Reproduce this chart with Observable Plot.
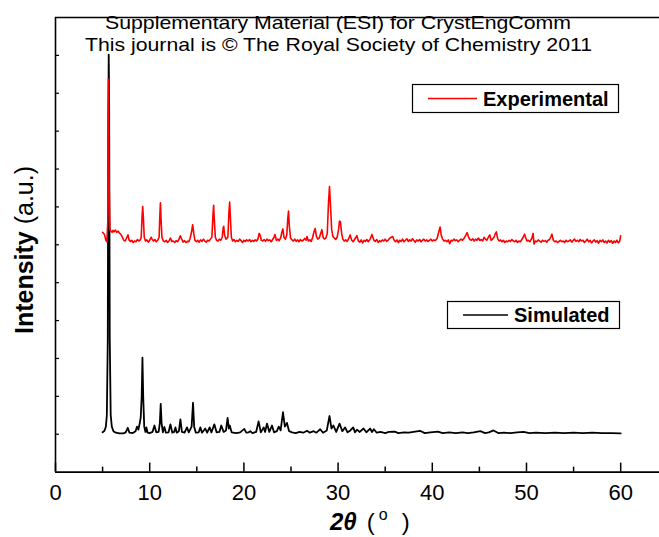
<!DOCTYPE html>
<html><head><meta charset="utf-8">
<script src="https://cdn.jsdelivr.net/npm/d3@7"></script>
<script src="https://cdn.jsdelivr.net/npm/@observablehq/plot@0.6"></script>
<style>
body{margin:0;background:#fff}
#wrap{position:relative;width:659px;height:537px;overflow:hidden}
#wrap svg{position:absolute;left:0;top:0}
</style>
</head><body><div id="wrap"></div>
<script>
// ---- data (2θ in degrees, intensity in a.u. incl. vertical offset) ----
const experimental = [
[5.0,6.33],[5.2,6.27],[5.35,6.12],[5.45,6.08],[5.55,6.6],[5.62,10.37],[5.7,7.5],[5.78,6.4],[5.9,6.36],[6.0,6.33],
[6.1,6.38],[6.2,6.34],[6.35,6.39],[6.5,6.33],[6.65,6.36],[6.8,6.31],[6.95,6.27],[7.1,6.2],[7.25,6.12],[7.4,6.1],
[7.55,6.18],[7.7,6.26],[7.8,6.13],[7.95,6.09],[8.1,6.12],[8.25,6.06],[8.4,6.1],[8.55,6.08],[8.7,6.14],[8.85,6.1],
[9.0,6.13],[9.1,6.2],[9.2,6.8],[9.26,7.01],[9.33,6.7],[9.42,6.2],[9.55,6.1],[9.7,6.13],[9.85,6.07],[10.0,6.12],
[10.15,6.2],[10.25,6.15],[10.4,6.1],[10.55,6.14],[10.7,6.08],[10.85,6.12],[11.0,6.2],[11.08,6.8],[11.14,7.11],[11.2,6.7],
[11.3,6.2],[11.45,6.1],[11.6,6.08],[11.75,6.12],[11.9,6.06],[12.05,6.1],[12.2,6.18],[12.35,6.09],[12.5,6.1],[12.65,6.06],
[12.8,6.11],[12.95,6.08],[13.1,6.14],[13.25,6.24],[13.4,6.15],[13.55,6.07],[13.7,6.11],[13.85,6.06],[14.0,6.09],[14.15,6.08],
[14.3,6.18],[14.45,6.35],[14.56,6.53],[14.68,6.3],[14.8,6.12],[14.95,6.08],[15.1,6.12],[15.25,6.07],[15.4,6.13],[15.55,6.09],
[15.7,6.15],[15.85,6.1],[16.0,6.07],[16.15,6.12],[16.3,6.1],[16.45,6.15],[16.6,6.2],[16.72,6.8],[16.79,7.04],[16.87,6.6],
[16.97,6.2],[17.1,6.12],[17.25,6.1],[17.4,6.15],[17.55,6.12],[17.7,6.2],[17.8,6.45],[17.86,6.49],[17.95,6.25],[18.1,6.15],
[18.3,6.2],[18.42,6.9],[18.49,7.13],[18.57,6.7],[18.67,6.2],[18.8,6.1],[18.95,6.14],[19.1,6.08],[19.25,6.12],[19.4,6.09],
[19.55,6.15],[19.7,6.11],[19.85,6.06],[20.0,6.12],[20.15,6.09],[20.3,6.13],[20.45,6.1],[20.6,6.14],[20.75,6.08],[20.9,6.12],
[21.05,6.09],[21.2,6.13],[21.35,6.1],[21.5,6.16],[21.62,6.3],[21.74,6.24],[21.85,6.12],[22.0,6.1],[22.15,6.14],[22.3,6.09],
[22.45,6.15],[22.6,6.11],[22.75,6.13],[22.9,6.08],[23.05,6.14],[23.2,6.2],[23.3,6.27],[23.45,6.12],[23.6,6.15],[23.75,6.11],
[23.9,6.18],[24.05,6.35],[24.14,6.42],[24.25,6.2],[24.4,6.15],[24.55,6.25],[24.66,6.7],[24.74,6.89],[24.82,6.5],[24.95,6.18],
[25.1,6.13],[25.25,6.1],[25.4,6.15],[25.55,6.09],[25.7,6.13],[25.85,6.08],[26.0,6.14],[26.15,6.1],[26.3,6.12],[26.45,6.17],
[26.6,6.12],[26.7,6.22],[26.85,6.1],[27.0,6.13],[27.15,6.09],[27.3,6.2],[27.45,6.35],[27.57,6.43],[27.7,6.22],[27.85,6.15],
[28.0,6.18],[28.15,6.3],[28.28,6.4],[28.4,6.2],[28.55,6.15],[28.7,6.18],[28.85,6.3],[28.98,7.1],[29.09,7.54],[29.2,7.0],
[29.32,6.4],[29.45,6.22],[29.6,6.18],[29.75,6.14],[29.9,6.2],[30.05,6.4],[30.15,6.63],[30.25,6.6],[30.38,6.3],[30.5,6.15],
[30.65,6.1],[30.8,6.13],[30.95,6.09],[31.1,6.15],[31.28,6.26],[31.45,6.12],[31.6,6.08],[31.75,6.14],[32.0,6.24],[32.15,6.1],
[32.3,6.07],[32.45,6.13],[32.6,6.05],[32.75,6.12],[32.9,6.09],[33.05,6.14],[33.2,6.08],[33.4,6.15],[33.6,6.27],[33.8,6.12],
[33.95,6.09],[34.1,6.14],[34.25,6.06],[34.4,6.11],[34.55,6.08],[34.7,6.13],[34.85,6.1],[35.0,6.15],[35.15,6.09],[35.3,6.12],
[35.5,6.18],[35.65,6.2],[35.8,6.22],[35.95,6.12],[36.1,6.08],[36.25,6.13],[36.4,6.06],[36.55,6.12],[36.7,6.09],[36.85,6.15],
[37.0,6.08],[37.15,6.12],[37.3,6.16],[37.45,6.09],[37.6,6.13],[37.75,6.1],[37.9,6.16],[38.05,6.11],[38.2,6.07],[38.35,6.13],
[38.5,6.1],[38.65,6.14],[38.8,6.08],[38.95,6.12],[39.1,6.15],[39.25,6.1],[39.4,6.13],[39.55,6.09],[39.7,6.12],[39.85,6.15],
[40.0,6.1],[40.15,6.13],[40.3,6.11],[40.5,6.16],[40.7,6.35],[40.83,6.47],[40.95,6.25],[41.1,6.15],[41.25,6.1],[41.4,6.12],
[41.55,6.08],[41.7,6.13],[41.85,6.03],[42.0,6.12],[42.15,6.1],[42.3,6.15],[42.45,6.11],[42.6,6.13],[42.75,6.08],[42.9,6.12],
[43.05,6.15],[43.2,6.12],[43.4,6.18],[43.55,6.25],[43.7,6.32],[43.85,6.2],[44.0,6.14],[44.15,6.12],[44.3,6.16],[44.45,6.1],
[44.6,6.15],[44.75,6.12],[44.9,6.18],[45.05,6.11],[45.2,6.14],[45.35,6.1],[45.5,6.2],[45.65,6.15],[45.8,6.12],[45.95,6.2],
[46.1,6.26],[46.25,6.12],[46.4,6.15],[46.55,6.2],[46.7,6.3],[46.8,6.34],[46.95,6.15],[47.1,6.1],[47.25,6.13],[47.4,6.08],
[47.55,6.12],[47.7,6.06],[47.85,6.1],[48.0,6.08],[48.15,6.12],[48.3,6.09],[48.45,6.14],[48.6,6.1],[48.75,6.08],[48.9,6.12],
[49.05,6.06],[49.2,6.1],[49.35,6.08],[49.5,6.14],[49.65,6.2],[49.8,6.28],[49.9,6.2],[50.05,6.1],[50.2,6.12],[50.35,6.08],
[50.5,6.14],[50.6,6.2],[50.7,6.3],[50.8,6.02],[50.95,6.1],[51.1,6.08],[51.25,6.13],[51.4,6.1],[51.55,6.07],[51.7,6.12],
[51.85,6.09],[52.0,6.11],[52.15,6.07],[52.3,6.12],[52.45,6.14],[52.6,6.22],[52.7,6.28],[52.85,6.12],[53.0,6.08],[53.15,6.1],
[53.3,6.06],[53.45,6.09],[53.6,6.12],[53.75,6.08],[53.9,6.1],[54.05,6.06],[54.2,6.12],[54.35,6.08],[54.5,6.1],[54.65,6.13],
[54.8,6.07],[54.95,6.11],[55.1,6.15],[55.25,6.09],[55.4,6.12],[55.55,6.08],[55.7,6.14],[55.85,6.1],[56.0,6.12],[56.15,6.06],
[56.3,6.1],[56.45,6.15],[56.6,6.08],[56.75,6.12],[56.9,6.05],[57.05,6.1],[57.2,6.13],[57.35,6.07],[57.5,6.11],[57.65,6.04],
[57.8,6.12],[57.95,6.08],[58.1,6.13],[58.25,6.06],[58.4,6.1],[58.55,6.05],[58.7,6.12],[58.85,6.07],[59.0,6.11],[59.15,6.04],
[59.3,6.1],[59.45,6.06],[59.6,6.12],[59.75,6.05],[59.9,6.1],[60.0,6.24]
];
const simulated = [
[5.0,1.05],[5.2,1.09],[5.35,1.2],[5.45,1.5],[5.55,3.5],[5.6,9.0],[5.65,11.02],[5.7,9.5],[5.76,3.5],[5.86,1.5],
[5.98,1.2],[6.15,1.08],[6.4,1.04],[6.8,1.02],[7.2,1.02],[7.45,1.05],[7.67,1.17],[7.85,1.04],[8.2,1.03],[8.5,1.08],
[8.66,1.2],[8.8,1.12],[8.95,1.3],[9.05,1.45],[9.15,2.0],[9.23,3.02],[9.31,2.0],[9.42,1.2],[9.55,1.06],[9.65,1.18],
[9.78,1.04],[10.0,1.03],[10.3,1.06],[10.5,1.23],[10.7,1.05],[10.95,1.06],[11.08,1.3],[11.17,1.8],[11.26,1.3],[11.4,1.05],
[11.56,1.19],[11.72,1.04],[12.0,1.05],[12.2,1.26],[12.4,1.04],[12.6,1.06],[12.73,1.18],[12.88,1.04],[13.1,1.08],[13.26,1.39],
[13.42,1.06],[13.7,1.04],[13.96,1.18],[14.15,1.05],[14.45,1.2],[14.6,1.83],[14.72,1.2],[14.9,1.04],[15.2,1.05],[15.38,1.18],
[15.55,1.04],[15.9,1.15],[16.1,1.04],[16.36,1.18],[16.55,1.05],[16.86,1.26],[17.1,1.05],[17.4,1.06],[17.6,1.23],[17.85,1.06],
[18.1,1.1],[18.27,1.43],[18.4,1.15],[18.5,1.23],[18.7,1.05],[19.2,1.03],[19.6,1.05],[20.04,1.14],[20.25,1.04],[20.5,1.05],
[20.68,1.08],[20.9,1.03],[21.3,1.06],[21.56,1.34],[21.8,1.05],[22.1,1.18],[22.25,1.06],[22.45,1.28],[22.7,1.06],[22.98,1.23],
[23.2,1.05],[23.5,1.08],[23.7,1.2],[23.9,1.1],[24.15,1.58],[24.35,1.2],[24.57,1.3],[24.8,1.08],[25.1,1.05],[25.5,1.03],
[25.9,1.06],[26.3,1.04],[26.7,1.09],[27.0,1.04],[27.4,1.08],[27.7,1.04],[28.1,1.13],[28.4,1.04],[28.8,1.1],[29.09,1.48],
[29.3,1.15],[29.5,1.23],[29.8,1.06],[30.15,1.28],[30.45,1.08],[30.75,1.18],[31.0,1.05],[31.3,1.1],[31.6,1.18],[31.8,1.05],
[32.0,1.12],[32.3,1.06],[32.7,1.15],[33.0,1.05],[33.4,1.15],[33.6,1.06],[33.8,1.13],[34.1,1.04],[34.5,1.06],[35.0,1.03],
[35.4,1.06],[36.0,1.07],[36.4,1.03],[37.0,1.05],[37.5,1.04],[38.0,1.06],[38.7,1.09],[39.2,1.03],[39.8,1.05],[40.6,1.07],
[41.1,1.03],[41.8,1.05],[42.5,1.03],[43.2,1.05],[43.8,1.03],[44.4,1.05],[45.1,1.08],[45.6,1.03],[46.0,1.05],[46.5,1.1],
[47.0,1.03],[47.6,1.04],[48.3,1.03],[49.0,1.05],[49.7,1.06],[50.3,1.03],[51.0,1.04],[52.0,1.03],[53.0,1.04],[54.0,1.03],
[55.0,1.04],[56.0,1.03],[57.0,1.04],[58.0,1.03],[59.0,1.03],[60.0,1.02]
];
const xTicks = [0, 10, 20, 30, 40, 50, 60];
const xMinorTicks = [5, 15, 25, 35, 45, 55];
const yTicks = [1, 2, 3, 4, 5, 6, 7, 8, 9, 10, 11];
const xDomain = [0, 64.12];
const yDomain = [0, 12];
const seriesNames = ["Experimental", "Simulated"];
const seriesColors = ["#ff0000", "#000000"];
const titleLines = ["Supplementary Material (ESI) for CrystEngComm", "This journal is \u00a9 The Royal Society of Chemistry 2011"];

const FONT = "'Liberation Sans', Arial, Helvetica, sans-serif";
const empty = () => "";

const chart = Plot.plot({
  width: 659, height: 537,
  marginLeft: 55, marginRight: 0, marginTop: 17, marginBottom: 65.4,
  x: {domain: xDomain},
  y: {domain: yDomain},
  style: {fontFamily: FONT, fontSize: "22px", color: "#000", background: "transparent", overflow: "visible"},
  marks: [
    Plot.axisY({ticks: yTicks, tickSize: -4, tickFormat: empty, label: null, strokeWidth: 1.2}),
    Plot.axisX({ticks: xTicks, tickSize: -9, tickFormat: empty, label: null, strokeWidth: 1.5}),
    Plot.axisX({ticks: xMinorTicks, tickSize: -5, tickFormat: empty, label: null, strokeWidth: 1.5}),
    Plot.axisX({ticks: xTicks, tickSize: 0, tickPadding: 12, label: null, fontSize: 22}),
    Plot.ruleX([xDomain[0]], {stroke: "#000", strokeWidth: 1.6}),
    Plot.ruleY(yDomain, {stroke: "#000", strokeWidth: 1.6}),
    Plot.line(simulated, {x: d => d[0], y: d => d[1], stroke: seriesColors[1], strokeWidth: 1.8}),
    Plot.line(experimental, {x: d => d[0], y: d => d[1], stroke: seriesColors[0], strokeWidth: 1.6})
  ]
});
const wrap = document.getElementById("wrap");
wrap.appendChild(chart);

// ---- annotation overlay: header, axis titles, legends ----
const ov = d3.select(wrap).append("svg")
  .attr("width", 659).attr("height", 537)
  .style("font-family", FONT).style("pointer-events", "none");

// clean right edge (the original figure is cropped there, no right spine)
ov.append("rect").attr("x", 650).attr("y", 19).attr("width", 9).attr("height", 450).attr("fill", "#fff");

ov.append("text").attr("x", 338).attr("y", 29).attr("text-anchor", "middle")
  .attr("font-size", 19).attr("textLength", 466).attr("lengthAdjust", "spacingAndGlyphs").text(titleLines[0]);
ov.append("text").attr("x", 338.5).attr("y", 51).attr("text-anchor", "middle")
  .attr("font-size", 19).attr("textLength", 507).attr("lengthAdjust", "spacingAndGlyphs").text(titleLines[1]);

const yl = ov.append("text").attr("transform", "translate(33,250) rotate(-90)")
  .attr("text-anchor", "middle").attr("font-size", 25);
yl.append("tspan").attr("font-weight", "bold").text("Intensity");
yl.append("tspan").text(" (a.u.)");

const xl = ov.append("text").attr("x", 330).attr("y", 530).attr("font-size", 24);
xl.append("tspan").attr("font-weight", "bold").attr("font-style", "italic").text("2\u03b8");
xl.append("tspan").attr("dx", 10).text("(");
xl.append("tspan").attr("dx", 4).attr("dy", -10).attr("font-size", 16).text("o");
xl.append("tspan").attr("dx", 14).attr("dy", 10).text(")");

const legends = [
  {name: seriesNames[0], color: seriesColors[0], bx: 412.5, by: 84.5, bw: 206, bh: 28, l0: 428, l1: 477, tx: 483},
  {name: seriesNames[1], color: seriesColors[1], bx: 447.5, by: 301.5, bw: 172, bh: 27, l0: 463, l1: 508, tx: 514}
];
for (const L of legends) {
  ov.append("rect").attr("x", L.bx).attr("y", L.by).attr("width", L.bw).attr("height", L.bh)
    .attr("fill", "#fff").attr("stroke", "#000").attr("stroke-width", 1.2);
  const cy = L.by + L.bh / 2;
  ov.append("line").attr("x1", L.l0).attr("x2", L.l1).attr("y1", cy).attr("y2", cy)
    .attr("stroke", L.color).attr("stroke-width", 1.6);
  ov.append("text").attr("x", L.tx).attr("y", cy + 7).attr("font-size", 20).attr("font-weight", "bold").text(L.name);
}
</script>
</body></html>
